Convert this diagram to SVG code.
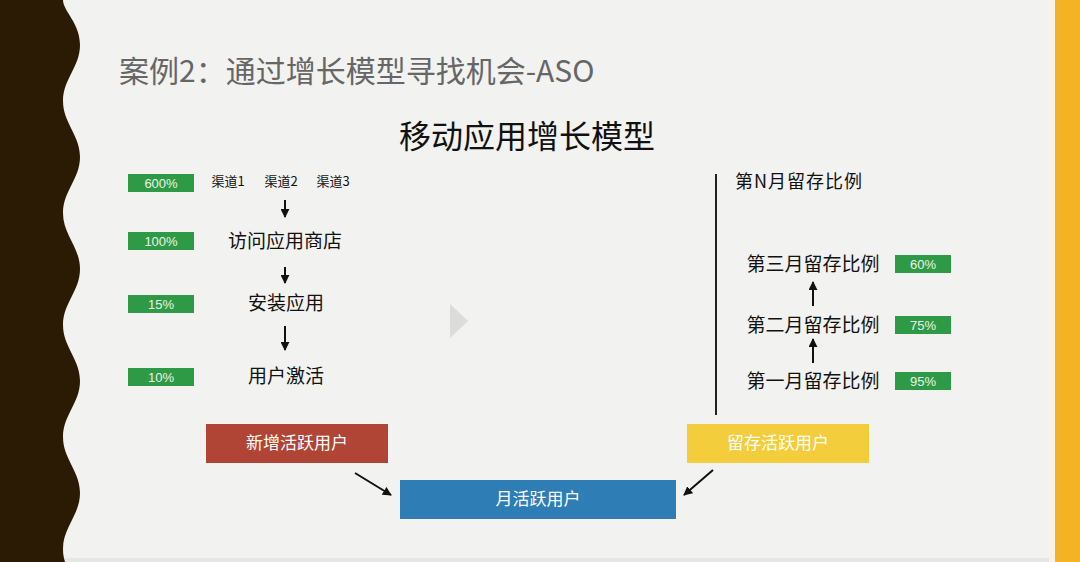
<svg xmlns="http://www.w3.org/2000/svg" width="1080" height="562" viewBox="0 0 1080 562">
<defs>
<style>
.cjk{font-family:"Noto Sans CJK SC","Noto Sans",sans-serif;}
.pct{font-family:"Liberation Sans","Noto Sans",sans-serif;font-size:13px;fill:#e8f5e8;text-anchor:middle;}
.gbox{fill:#2f9a45;}
.lbl{font-size:19px;fill:#111;text-anchor:middle;}
.btxt{font-size:17px;fill:#ffffff;text-anchor:middle;}
.arr{stroke:#111;stroke-width:2;fill:none;}
</style>
<marker id="ah" viewBox="0 0 10 10" refX="9" refY="5" markerWidth="4.5" markerHeight="4.5" orient="auto" markerUnits="strokeWidth">
<path d="M0,0 L10,5 L0,10 z" fill="#111"/>
</marker>
</defs>
<rect x="0" y="0" width="1080" height="562" fill="#f2f2f0"/>
<rect x="0" y="558" width="1080" height="4" fill="#e6e6e4"/>
<rect x="1049" y="0" width="6" height="562" fill="#f6f3ea"/>
<rect x="1055" y="0" width="25" height="562" fill="#f4b324"/>
<path d="M0,0 L63,0 C63,11 80,23 80,45 C80,67 63,79 63,101 C63,123 80,135 80,157 C80,179 63,191 63,213 C63,235 80,247 80,269 C80,291 63,303 63,325 C63,347 80,359 80,381 C80,403 63,415 63,437 C63,459 80,471 80,493 C80,515 63,527 63,549 C63,555 64,558 65,562 L0,562 Z" fill="#2b1a04"/>

<text x="119" y="82" class="cjk" font-size="30" fill="#666">案例2：通过增长模型寻找机会-ASO</text>
<text x="527" y="148" class="cjk" font-size="32" fill="#111" text-anchor="middle">移动应用增长模型</text>

<polygon points="450,304 468,321 450,338" fill="#dcdcdc"/>

<g id="funnel">
<g id="p600"><rect class="gbox" x="128" y="174" width="66" height="18"/><text class="pct" x="161" y="188">600%</text></g>
<g id="channels" class="cjk" font-size="13" fill="#111">
<text x="228" y="186" text-anchor="middle">渠道1</text>
<text x="281" y="186" text-anchor="middle">渠道2</text>
<text x="333" y="186" text-anchor="middle">渠道3</text>
</g>
<g id="p100"><rect class="gbox" x="128" y="232" width="66" height="18"/><text class="pct" x="161" y="246">100%</text></g>
<g id="visit"><text class="cjk lbl" x="285" y="248">访问应用商店</text></g>
<g id="p15"><rect class="gbox" x="128" y="295" width="66" height="18"/><text class="pct" x="161" y="309">15%</text></g>
<g id="install"><text class="cjk lbl" x="286" y="310">安装应用</text></g>
<g id="p10"><rect class="gbox" x="128" y="368" width="66" height="18"/><text class="pct" x="161" y="382">10%</text></g>
<g id="activate"><text class="cjk lbl" x="286" y="383">用户激活</text></g>
</g>

<g id="retention">
<g id="nth"><text class="cjk" x="735" y="188" font-size="18" letter-spacing="1" fill="#111">第N月留存比例</text></g>
<g id="m3"><text class="cjk lbl" x="813" y="271">第三月留存比例</text><rect class="gbox" x="895" y="255" width="56" height="18"/><text class="pct" x="923" y="269">60%</text></g>
<g id="m2"><text class="cjk lbl" x="813" y="332">第二月留存比例</text><rect class="gbox" x="895" y="316" width="56" height="18"/><text class="pct" x="923" y="330">75%</text></g>
<g id="m1"><text class="cjk lbl" x="813" y="388">第一月留存比例</text><rect class="gbox" x="895" y="372" width="56" height="18"/><text class="pct" x="923" y="386">95%</text></g>
</g>

<g id="new-active"><rect x="206" y="424" width="182" height="39" fill="#b04435"/><text class="cjk btxt" x="297" y="449">新增活跃用户</text></g>
<g id="retained-active"><rect x="687" y="424" width="182" height="39" fill="#f4cd3c"/><text class="cjk btxt" x="778" y="449">留存活跃用户</text></g>
<g id="mau"><rect x="400" y="480" width="276" height="39" fill="#2e7db5"/><text class="cjk btxt" x="538" y="505">月活跃用户</text></g>

<g id="connectors">
<line x1="716" y1="174" x2="716" y2="415" stroke="#222" stroke-width="2"/>
<line class="arr" x1="285" y1="200" x2="285" y2="217" marker-end="url(#ah)"/>
<line class="arr" x1="285" y1="267" x2="285" y2="283" marker-end="url(#ah)"/>
<line class="arr" x1="285" y1="326" x2="285" y2="350" marker-end="url(#ah)"/>
<line class="arr" x1="813" y1="306" x2="813" y2="282" marker-end="url(#ah)"/>
<line class="arr" x1="813" y1="363" x2="813" y2="339" marker-end="url(#ah)"/>
<line class="arr" x1="355" y1="473" x2="391" y2="495" marker-end="url(#ah)"/>
<line class="arr" x1="713" y1="470" x2="684" y2="495" marker-end="url(#ah)"/>
</g>
</svg>
